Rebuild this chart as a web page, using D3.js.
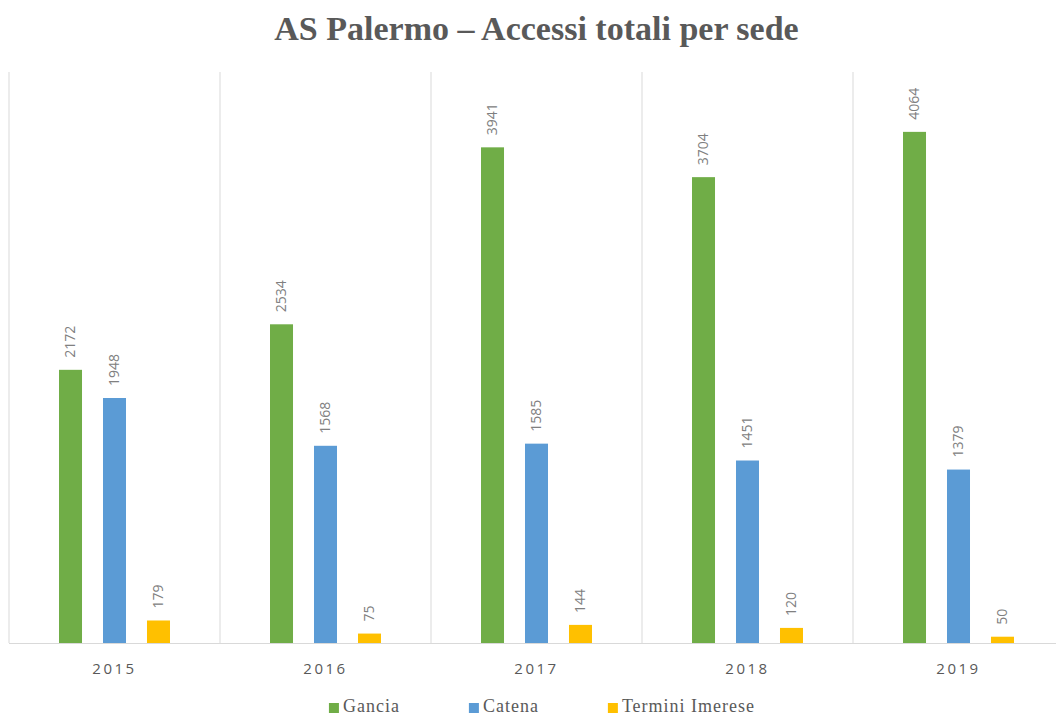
<!DOCTYPE html>
<html>
<head>
<meta charset="utf-8">
<script src="https://cdn.jsdelivr.net/npm/d3@7"></script>
<style>
  html, body { margin: 0; padding: 0; background: #ffffff; }
  svg { display: block; }
</style>
</head>
<body>
<svg id="chart" width="1056" height="716"></svg>
<script>
// Accessi totali per sede, AS Palermo
const years = ["2015", "2016", "2017", "2018", "2019"];
const seriesNames = ["Gancia", "Catena", "Termini Imerese"];
const gancia = [2172, 2534, 3941, 3704, 4064];
const catena = [1948, 1568, 1585, 1451, 1379];
const termini = [179, 75, 144, 120, 50];
const seriesColors = ["#70ad47", "#5b9bd5", "#ffc000"];
const titleText = "AS Palermo \u2013 Accessi totali per sede";

const seriesValues = [gancia, catena, termini];

const svg = d3.select("#chart");
const W = 1056, H = 716;
const plot = { left: 9, right: 1064, top: 72, bottom: 643 };

// Title
svg.append("text")
  .attr("x", (plot.left + plot.right) / 2)
  .attr("y", 40)
  .attr("text-anchor", "middle")
  .attr("font-family", "'Liberation Serif', 'Times New Roman', serif")
  .attr("font-weight", "bold")
  .attr("font-size", 34)
  .attr("fill", "#595959")
  .text(titleText);

// Scales
const x0 = d3.scaleBand().domain(years).range([plot.left, plot.right]).padding(0);
const bw = x0.bandwidth();
const x1 = d3.scaleBand().domain(seriesNames)
  .range([bw * 0.237, bw * 0.763])
  .paddingInner(0.477).paddingOuter(0);
const y = d3.scaleLinear().domain([0, 4540]).range([plot.bottom, plot.top]);

// Category separators
const sepX = years.map(yr => x0(yr)).concat([plot.right]);
svg.append("g").selectAll("line").data(sepX).join("line")
  .attr("x1", d => d).attr("x2", d => d)
  .attr("y1", plot.top).attr("y2", plot.bottom)
  .attr("stroke", "#d9d9d9").attr("stroke-width", 1);

// Bars and value labels
const groups = svg.append("g").selectAll("g").data(years).join("g")
  .attr("transform", d => `translate(${x0(d)},0)`);

groups.each(function (yr, i) {
  const g = d3.select(this);
  const rows = seriesNames.map((name, s) => ({ name, s, v: seriesValues[s][i] }));
  g.selectAll("rect").data(rows).join("rect")
    .attr("x", d => x1(d.name))
    .attr("y", d => y(d.v))
    .attr("width", x1.bandwidth())
    .attr("height", d => y(0) - y(d.v))
    .attr("fill", d => seriesColors[d.s]);
  g.selectAll("text").data(rows).join("text")
    .attr("transform", d => `translate(${x1(d.name) + x1.bandwidth() / 2},${y(d.v) - 12}) rotate(-90)`)
    .attr("dy", "0.35em")
    .attr("text-anchor", "start")
    .attr("font-family", "'Open Sans', sans-serif")
    .attr("font-size", 14)
    .attr("fill", "#808080")
    .text(d => d.v);
});

// Category axis
const xAxis = svg.append("g")
  .attr("transform", `translate(0,${plot.bottom})`)
  .call(d3.axisBottom(x0).tickSize(0).tickPadding(0));
xAxis.select(".domain").remove();
svg.append("line")
  .attr("x1", plot.left).attr("x2", W)
  .attr("y1", plot.bottom + 0.5).attr("y2", plot.bottom + 0.5)
  .attr("stroke", "#d9d9d9");
xAxis.selectAll("text")
  .attr("y", 31)
  .attr("dy", 0)
  .attr("font-family", "'Open Sans', sans-serif")
  .attr("font-size", 15)
  .attr("letter-spacing", "2.5px")
  .attr("fill", "#595959");

// Legend
const legend = svg.append("g");
const items = legend.selectAll("g").data(seriesNames).join("g");
items.append("rect")
  .attr("width", 10).attr("height", 10)
  .attr("y", 703)
  .attr("fill", (d, i) => seriesColors[i]);
items.append("text")
  .attr("x", 14).attr("y", 712)
  .attr("font-family", "'Liberation Serif', 'Times New Roman', serif")
  .attr("font-size", 18)
  .attr("letter-spacing", "1px")
  .attr("fill", "#595959")
  .text(d => d);
const widths = [];
items.each(function () { widths.push(this.getBBox().width); });
const gap = 69;
const total = d3.sum(widths) + gap * (widths.length - 1);
let cx = 542 - total / 2;
items.each(function (d, i) {
  d3.select(this).attr("transform", `translate(${cx},0)`);
  cx += widths[i] + gap;
});
</script>
</body>
</html>
